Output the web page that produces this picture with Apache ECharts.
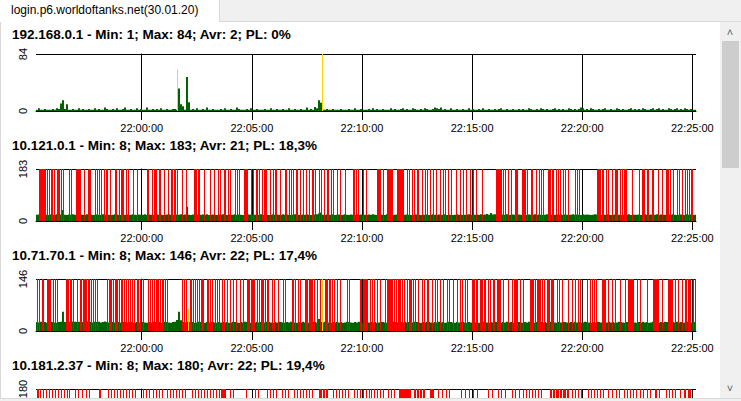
<!DOCTYPE html>
<html><head><meta charset="utf-8">
<script src="https://cdn.jsdelivr.net/npm/echarts@6/dist/echarts.min.js"></script>
<style>
html,body{margin:0;padding:0;width:741px;height:401px;overflow:hidden;background:#f0f0f0;font-family:"Liberation Sans",Arial,sans-serif;}
#content{position:absolute;left:0;top:21px;width:741px;height:378px;background:#fff;border:1px solid #d9d9d9;box-sizing:border-box;}
#chart{position:absolute;left:0;top:0;width:741px;height:401px;}
#tab{position:absolute;left:0;top:0;width:220px;height:22px;background:#fff;border-right:1px solid #d9d9d9;box-sizing:border-box;font-size:12px;line-height:20px;padding-left:11px;color:#000;white-space:nowrap;}
#scroll{position:absolute;left:720px;top:22px;width:21px;height:376px;background:#f0f0f0;}
#thumb{position:absolute;left:2px;top:19px;width:17px;height:127px;background:#cdcdcd;}
.arr{position:absolute;left:4px;width:12px;height:12px;color:#606060;font-size:11px;text-align:center;line-height:12px;}
#bottom{position:absolute;left:0;top:398px;width:741px;height:3px;background:#f0f0f0;border-top:1px solid #d9d9d9;box-sizing:border-box;}
</style></head>
<body>
<div id="content"></div>
<div id="chart"></div>
<div id="tab">login.p6.worldoftanks.net(30.01.20)</div>
<div id="scroll"><div class="arr" style="top:4px">&#x2C4;</div><div id="thumb"></div><div class="arr" style="top:360px">&#x2C5;</div></div>
<div id="bottom"></div>
<script>
// ---- data ----
const tickValues = [0, 300, 600, 900, 1200, 1500];          // seconds after 22:00:00
const tickLabels = ['22:00:00','22:05:00','22:10:00','22:15:00','22:20:00','22:25:00'];
const titles = [
  '192.168.0.1 - Min: 1; Max: 84; Avr: 2; PL: 0%',
  '10.121.0.1 - Min: 8; Max: 183; Avr: 21; PL: 18,3%',
  '10.71.70.1 - Min: 8; Max: 146; Avr: 22; PL: 17,4%',
  '10.181.2.37 - Min: 8; Max: 180; Avr: 22; PL: 19,4%'
];
const yMax = [84, 183, 146, 180];

// ping values (ms), one per 2-px column
const ping1 = [2,4,2,2,3,2,2,2,3,2,4,3,11,16,3,10,2,2,3,2,2,4,2,3,2,2,3,2,2,4,
2,3,2,2,5,3,2,2,3,2,4,2,2,3,5,2,2,3,2,2,4,2,3,2,2,5,2,2,3,2,
3,2,4,2,2,3,2,2,3,3,2,33,10,7,2,50,13,2,3,2,4,2,2,3,2,5,2,2,3,2,
2,2,3,2,4,2,2,3,2,2,5,3,2,2,2,3,2,4,2,2,3,2,2,2,3,2,2,4,2,2,
3,2,2,3,2,2,4,2,2,3,2,2,3,2,2,5,2,3,2,6,4,16,12,2,2,3,2,2,3,2,
2,2,3,2,2,2,3,2,2,4,2,2,3,2,2,2,3,2,4,2,3,2,2,3,2,2,2,4,2,3,
2,2,3,4,2,3,2,2,4,3,2,2,3,2,4,3,2,2,3,5,4,3,5,2,3,2,2,4,2,2,
3,2,2,3,2,2,4,2,3,2,2,3,2,4,2,2,3,2,2,3,2,3,4,2,2,3,2,2,3,2,
2,3,2,3,2,2,4,3,2,2,3,2,4,3,2,3,2,2,3,4,2,3,2,3,2,2,4,3,2,3,
2,3,5,4,2,3,2,4,3,2,2,3,2,3,4,2,2,3,2,2,4,3,2,3,2,2,3,4,2,3,
2,3,2,4,3,2,2,3,4,2,3,4,2,3,2,2,4,3,2,3,4,2,3,2,4,3,2,3,2,2];
const ping2 = [22,23,21,22,24,22,21,23,22,22,24,21,23,39,22,21,23,22,24,22,21,22,23,22,21,24,22,23,21,22,
23,22,21,24,22,23,22,21,22,24,23,22,21,31,22,23,21,22,24,22,21,23,22,22,24,21,23,22,21,22,
24,22,23,21,22,23,24,22,21,22,23,22,24,21,23,50,22,21,23,24,22,21,22,23,22,24,21,22,23,22,
21,23,22,24,22,21,23,22,22,24,21,23,22,21,22,24,23,22,21,22,23,22,24,21,23,22,21,22,24,22,
23,22,21,24,22,23,22,21,22,24,23,22,21,23,22,24,22,21,22,23,24,26,30,22,21,23,22,22,24,21,
22,23,21,22,24,22,21,23,22,22,24,21,23,22,22,21,23,22,24,22,21,22,23,22,21,24,22,23,21,22,
23,22,21,24,22,23,22,21,22,24,23,22,21,23,22,23,21,22,24,22,21,23,22,22,24,21,23,22,21,22,
24,22,23,21,22,23,24,22,21,22,23,22,24,21,23,25,22,28,23,24,22,21,22,23,22,24,21,22,23,22,
21,23,22,24,22,21,23,22,22,24,21,23,22,21,22,24,23,22,21,22,23,22,24,21,23,22,21,22,24,22,
23,22,21,24,22,23,22,21,22,24,23,22,21,23,22,24,22,21,22,23,24,22,21,22,23,22,24,21,23,22,
22,23,21,22,24,22,21,23,22,22,24,21,23,22,22,21,23,22,24,22,21,22,23,22,21,24,22,23,21,22];
const ping3 = [25,24,26,24,25,23,24,26,25,24,23,25,26,54,25,24,26,25,27,26,25,26,27,25,26,27,26,25,24,26,
25,26,24,25,27,25,24,26,25,24,26,25,24,25,26,24,25,26,24,23,25,24,26,25,24,23,25,24,26,25,
24,25,23,24,26,25,24,23,25,26,31,54,30,25,24,26,25,24,25,23,24,26,25,24,23,25,24,26,25,24,
23,25,24,26,24,25,23,24,26,25,24,23,25,24,26,25,24,23,25,24,26,24,25,23,24,26,25,24,23,25,
24,26,25,24,23,25,24,26,25,24,23,25,24,26,24,25,23,24,26,25,24,34,25,24,26,25,24,23,25,24,
26,24,25,23,24,26,25,24,23,25,24,26,25,24,23,25,24,26,24,25,23,24,26,25,24,23,25,24,26,25,
24,23,25,24,26,24,25,23,24,26,25,24,23,25,24,26,25,24,23,25,24,26,24,25,23,24,26,25,24,23,
25,24,26,25,24,23,25,24,26,24,25,23,24,26,25,24,23,25,24,26,25,24,23,25,24,26,24,25,23,24,
26,25,24,23,25,24,26,25,24,23,25,24,26,24,25,23,24,26,25,24,23,25,24,26,25,24,23,25,24,26,
24,25,23,24,26,25,24,23,25,24,26,25,24,23,25,24,26,24,25,23,24,26,25,24,23,25,24,26,25,24,
23,25,24,26,24,25,23,24,26,25,24,23,25,24,26,25,24,23,25,24,26,24,25,23,24,26,25,24,26,25];
const ping4 = [];

// lost packets: [first 1-px column, number of columns]
const lost1 = [];
const lost2 = [[3,7],[11,1],[13,1],[15,2],[18,1],[21,3],[25,1],[27,1],[33,1],[35,1],[40,4],[44,1],[48,1],[52,3],[59,1],[61,1],[63,1],[65,1],[68,1],[70,2],[74,1],[79,2],[83,1],[85,3],[90,1],[92,1],[97,1],[101,1],[111,2],[116,1],[118,3],[123,2],[128,1],[132,1],[135,2],[138,2],[141,1],[146,1],[150,1],[158,3],[162,2],[168,1],[174,1],[178,1],[182,1],[184,1],[188,2],[192,1],[194,1],[199,1],[201,1],[203,1],[208,3],
[211,1],[215,1],[217,1],[220,2],[223,1],[226,1],[228,3],[234,1],[237,1],[239,2],[244,1],[249,2],[253,1],[255,1],[257,1],[260,2],[264,1],[267,1],[270,1],[273,1],[276,2],[279,1],[283,1],[285,1],[288,1],[291,2],[295,1],[297,1],[301,1],[304,1],[309,1],[317,2],[320,1],[322,1],[327,1],[330,1],[341,4],[347,1],[351,6],[361,7],[371,1],[373,1],[376,1],[378,1],[381,2],[386,1],[389,1],[391,1],[394,1],[397,1],[400,1],[404,1],[407,1],[409,1],[412,1],[415,1],[420,1],[424,1],[427,1],[430,1],[434,1],[437,1],[440,1],
[446,1],[460,6],[467,1],[469,1],[472,1],[475,1],[479,3],[486,4],[491,1],[495,2],[500,1],[503,1],[505,1],[507,1],[512,3],[516,2],[520,1],[522,1],[524,1],[527,1],[529,1],[532,1],[539,1],[541,1],[543,1],[561,4],[566,2],[570,1],[572,1],[576,1],[579,3],[584,1],[586,1],[588,3],[596,1],[603,1],[606,3],[611,2],[616,2],[622,1],[626,1],[630,3],[634,1],[637,1],[641,1],[643,1],[646,1],[649,1],[651,1],[653,1],[655,2]];
const lost3 = [[1,1],[3,1],[6,2],[11,4],[17,1],[19,1],[21,1],[30,3],[34,2],[37,1],[41,1],[44,2],[47,4],[52,2],[55,1],[57,1],[59,1],[61,1],[71,1],[73,3],[77,1],[79,3],[83,1],[85,2],[88,1],[90,1],[92,1],[94,1],[96,1],[98,1],[101,2],[104,1],[107,1],[112,1],[114,1],[116,1],[118,1],[120,3],[124,1],[126,2],[129,1],[131,1],[146,1],[148,1],[150,1],[154,2],[157,1],[159,1],[161,1],[163,1],[165,3],[171,2],[174,1],[176,1],[179,1],[181,1],[183,1],[186,1],[188,1],[191,1],[194,1],[197,1],[200,1],[204,1],[207,1],
[211,3],[215,4],[221,1],[223,1],[225,3],[229,1],[231,2],[236,1],[238,1],[242,1],[247,1],[249,1],[256,2],[259,1],[262,1],[264,1],[269,3],[273,4],[278,1],[281,1],[284,1],[289,3],[293,2],[296,1],[298,1],[301,1],[304,1],[311,1],[313,1],[324,2],[327,5],[334,1],[336,1],[338,1],[341,1],[344,1],[349,1],[351,6],[358,1],[360,1],[362,3],[366,1],[368,1],[371,1],[373,3],[377,1],[379,1],[382,1],[386,1],[388,1],[391,2],[396,1],[399,1],[401,1],[404,1],[407,1],[411,1],[413,1],[417,1],[421,1],[424,1],[426,1],[429,1],[431,1],[436,3],[440,2],[444,3],[448,2],[452,1],
[454,1],[457,2],[461,4],[467,1],[472,1],[476,1],[478,4],[484,1],[487,1],[494,4],[499,1],[501,4],[506,1],[508,1],[511,3],[515,3],[521,1],[523,1],[526,1],[532,1],[536,1],[539,1],[542,1],[544,1],[551,1],[554,1],[556,1],[558,1],[560,1],[566,4],[572,1],[576,1],[579,1],[584,1],[589,1],[592,6],[601,1],[604,1],[611,1],[617,6],[626,1],[632,5],[639,1],[642,1],[646,1],[649,2],[652,3],[657,1],[659,1]];
const lost4 = [[1,2],[4,1],[7,1],[10,1],[13,1],[16,1],[19,1],[22,1],[25,1],[28,1],[31,1],[33,1],[39,1],[42,1],[46,1],[50,1],[53,1],[63,2],[72,1],[75,1],[78,1],[81,1],[84,1],[87,1],[90,1],[93,1],[96,1],[99,1],[107,1],[110,1],[113,1],[117,1],[120,1],[123,1],[126,1],[131,1],[134,1],[137,1],[140,1],[143,1],[146,1],[149,1],[156,1],[159,1],[162,1],[165,1],[168,1],[171,1],[174,1],[177,1],[180,1],[183,1],[185,5],[194,1],[197,1],[210,1],[219,1],[222,1],[231,1],[234,1],[237,1],[240,1],[246,1],[249,1],[252,1],[258,1],[261,1],[264,1],[267,1],[270,1],[273,1],[276,1],[283,3],[287,2],[290,2],[297,1],[300,1],[303,1],[306,1],[309,1],[312,1],[318,1],[321,1],[324,1],[327,1],[330,1],[333,1],
[335,1],[338,1],[341,1],[344,1],[347,1],[352,1],[355,1],[358,1],[363,12],[378,2],[381,2],[384,2],[387,2],[394,4],[402,1],[406,1],[410,1],[413,1],[425,1],[429,1],[433,1],[437,1],[441,1],[452,1],[456,1],[462,1],[465,1],[469,1],[476,1],[479,1],[483,1],[487,1],[490,1],[493,1],[496,1],[499,1],[502,1],[505,1],[514,2],[517,2],[520,3],[524,2],[527,3],[531,2],[536,1],[539,1],[542,1],[545,1],[552,1],[555,1],[558,1],[561,1],[564,1],[567,1],[572,1],[576,1],[580,1],[583,1],[588,1],[591,1],[594,1],[597,1],[600,1],[604,1],[607,1],[611,1],[614,1],[619,2],[623,1],[630,1],[633,1],[636,1],[639,1],[644,1],[648,2],[652,3]];

// highlighted samples: [1-px column, ping]
const marked1 = [[141,61],[286,84]];
const marked2 = [];
const marked3 = [[152,62],[286,146]];
const marked4 = [];

// ---- chart ----
const X_MIN = -288, X_MAX = 1510;
const COLS = 660;
const STEP1 = (X_MAX - X_MIN) / COLS;
const pings = [ping1, ping2, ping3, ping4];
const losts = [lost1, lost2, lost3, lost4];
const marks = [marked1, marked2, marked3, marked4];
const gridTops = [54, 169, 279, 389];
const gridHeights = [57, 52, 52, 52];
const titleY = [34, 145, 255, 365];
const FONT = '"Liberation Sans", Arial, sans-serif';

function rectItem(widthSteps) {
  return function (params, api) {
    const t = api.value(0), v = api.value(1);
    const w = widthSteps != null ? widthSteps : api.value(2);
    const p0 = api.coord([t, 0]);
    const p1 = api.coord([t + w * STEP1, v]);
    return { type: 'rect', shape: { x: p0[0], y: p1[1], width: p1[0] - p0[0], height: p0[1] - p1[1] }, style: api.style() };
  };
}

const grids = [], xAxes = [], yAxes = [], series = [], graphics = [];
for (let p = 0; p < 4; p++) {
  const lastPanel = p === 3;   // only its top edge is inside the window
  grids.push({ left: 36, width: 660, top: gridTops[p], height: gridHeights[p] });
  xAxes.push({
    type: 'value', gridIndex: p, min: X_MIN, max: X_MAX,
    axisLine: { show: true, lineStyle: { color: '#000', width: 1 } },
    axisTick: { show: true, length: 9, customValues: tickValues, lineStyle: { color: '#000', width: 1 } },
    axisLabel: { show: !lastPanel, customValues: tickValues, margin: 11, fontSize: 11, color: '#000', fontFamily: FONT,
      formatter: v => tickLabels[tickValues.indexOf(v)] || '' },
    splitLine: { show: true, lineStyle: { color: '#000', width: 1 } }
  });
  yAxes.push({
    type: 'value', gridIndex: p, min: 0, max: yMax[p], interval: yMax[p],
    axisLine: { show: true, lineStyle: { color: '#000', width: 1 } },
    axisTick: { show: true, length: 5, lineStyle: { color: '#000' } },
    axisLabel: { rotate: 90, margin: 8, fontSize: 11, color: '#000', fontFamily: FONT, showMinLabel: !lastPanel },
    splitLine: { show: true, lineStyle: { color: '#000', width: 1 } }
  });
  const step2 = (X_MAX - X_MIN) / Math.max(1, pings[p].length);
  series.push({
    type: 'custom', xAxisIndex: p, yAxisIndex: p, z: 2,
    renderItem: function (params, api) {
      const t = api.value(0), v = api.value(1);
      const p0 = api.coord([t, 0]);
      const p1 = api.coord([t + step2, v]);
      return { type: 'rect', shape: { x: p0[0], y: p1[1], width: p1[0] - p0[0], height: p0[1] - p1[1] }, style: { fill: '#006400' } };
    },
    data: pings[p].map((v, j) => [X_MIN + j * step2, v])
  });
  series.push({
    type: 'custom', xAxisIndex: p, yAxisIndex: p, z: 3,
    itemStyle: { color: '#ff0000' },
    renderItem: rectItem(null),
    data: losts[p].map(r => [X_MIN + r[0] * STEP1, yMax[p], r[1]])
  });
  series.push({
    type: 'custom', xAxisIndex: p, yAxisIndex: p, z: 4,
    itemStyle: { color: '#ffd700' },
    renderItem: rectItem(1),
    data: marks[p].map(r => [X_MIN + r[0] * STEP1, r[1]])
  });
  graphics.push({ type: 'text', x: 12, y: titleY[p], style: { text: titles[p], font: 'bold 13.5px ' + FONT, fill: '#000', verticalAlign: 'middle' } });
}

const chart = echarts.init(document.getElementById('chart'), null, { renderer: 'svg' });
chart.setOption({
  animation: false,
  grid: grids, xAxis: xAxes, yAxis: yAxes, series: series,
  graphic: graphics
});
</script>
</body></html>
